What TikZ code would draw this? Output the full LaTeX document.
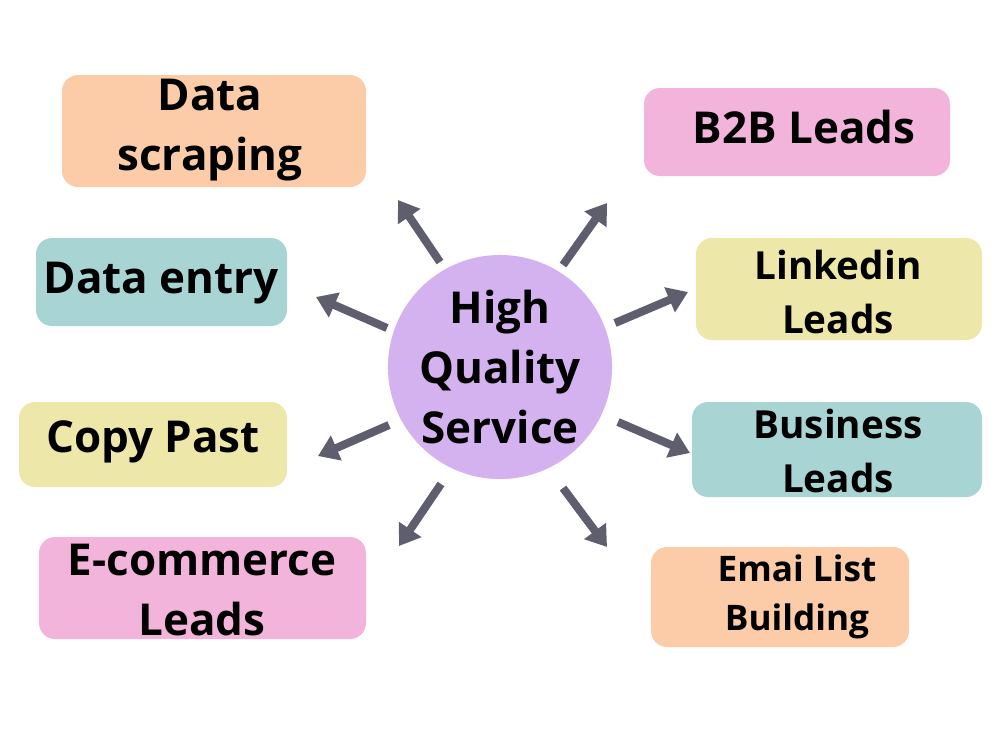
\documentclass[tikz,border=0pt]{standalone}
\usepackage{fontspec}
\setmainfont{Open Sans}
\usetikzlibrary{arrows.meta}
\definecolor{peach}{HTML}{FCCBA8}
\definecolor{teal}{HTML}{A9D4D4}
\definecolor{yell}{HTML}{EEE7AA}
\definecolor{pink}{HTML}{F2B4DA}
\definecolor{purp}{HTML}{D4B2F0}
\definecolor{arr}{HTML}{5E5E6E}
\begin{document}
\begin{tikzpicture}[x=0.01cm,y=-0.01cm,
  box/.style={rounded corners=0.16cm,inner sep=0},
  lbl/.style={font=\bfseries\fontsize{12.5}{17}\selectfont,align=center,text=black},
  sm/.style={font=\bfseries\fontsize{10}{14}\selectfont,align=center,text=black},
  ar/.style={draw=arr,line width=2.3pt,-{Triangle[length=0.2cm,width=0.26cm]}}]
\useasboundingbox (0,0) rectangle (1000,750);
\fill[box,peach] (62,75) rectangle (366,187);
\node[lbl] (ds) at (210,130) {Data\\scraping};
\fill[box,teal] (36,238) rectangle (287,326);
\node[lbl] (de) at (161,283) {Data entry};
\fill[box,yell] (19,402) rectangle (287,487);
\node[lbl] (cp) at (153,442) {Copy Past};
\fill[box,pink] (39,537) rectangle (366,639);
\node[lbl] (ec) at (202,590) {E-commerce\\Leads};
\fill[box,pink] (644,88) rectangle (950,176);
\node[lbl] (b2b) at (804,127) {B2B Leads};
\fill[box,yell] (696,238) rectangle (982,340);
\node[sm,font=\bfseries\fontsize{11}{15.5}\selectfont] (li) at (838,292) {Linkedin\\Leads};
\fill[box,teal] (692,402) rectangle (982,497);
\node[sm,font=\bfseries\fontsize{11}{15.5}\selectfont] (bl) at (838,451) {Business\\Leads};
\fill[box,peach] (651,547) rectangle (909,647);
\node[sm] (em) at (797,597) {Emai List\\Building};
\node[circle,fill=purp,minimum size=6.4cm*0.35,inner sep=0] (c) at (500,367) {};
\node[lbl] at (c) {High\\Quality\\Service};
\coordinate (s1) at (440,262); \coordinate (e1) at (398,200);
\coordinate (s2) at (387,328); \coordinate (e2) at (316,297);
\coordinate (s3) at (389,425); \coordinate (e3) at (318,456);
\coordinate (s4) at (441,484); \coordinate (e4) at (399,546);
\coordinate (s5) at (563,265); \coordinate (e5) at (607,203);
\coordinate (s6) at (615,323); \coordinate (e6) at (688,292);
\coordinate (s7) at (618,422); \coordinate (e7) at (690,453);
\coordinate (s8) at (563,488); \coordinate (e8) at (607,547);
\foreach \i in {1,...,8} \draw[ar] (s\i) -- (e\i);
\end{tikzpicture}
\end{document}
